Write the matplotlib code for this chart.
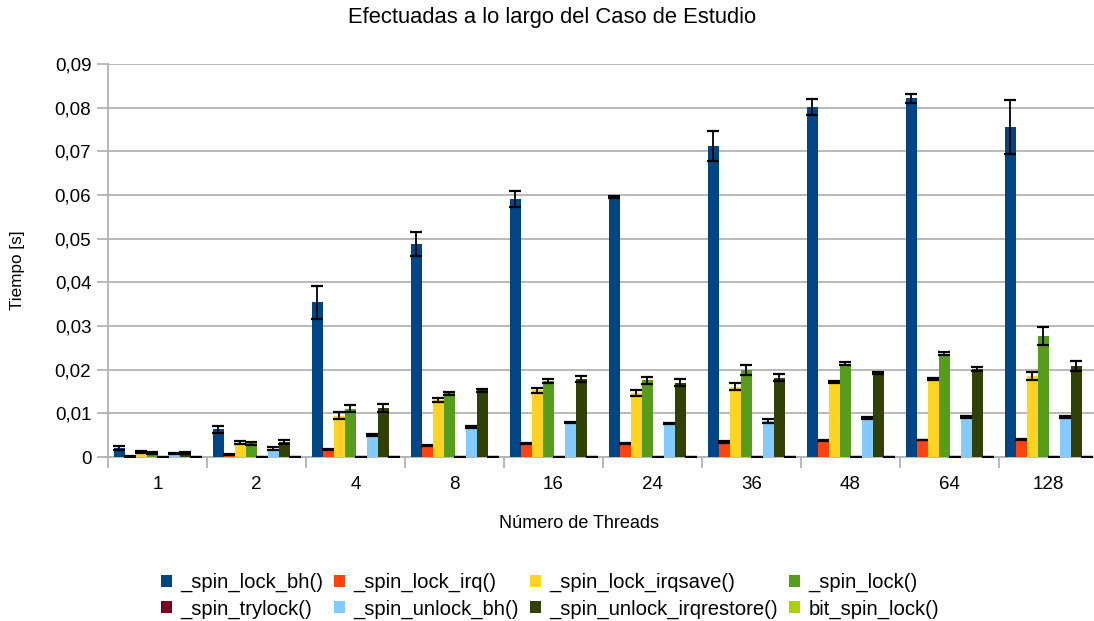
import matplotlib
matplotlib.use('Agg')
import matplotlib.pyplot as plt
from matplotlib.patches import Patch
from matplotlib.ticker import FuncFormatter, MultipleLocator
import numpy as np

plt.rcParams['font.family'] = ['Liberation Sans', 'DejaVu Sans']

threads = ['1', '2', '4', '8', '16', '24', '36', '48', '64', '128']
series = ['_spin_lock_bh()', '_spin_lock_irq()', '_spin_lock_irqsave()', '_spin_lock()',
          '_spin_trylock()', '_spin_unlock_bh()', '_spin_unlock_irqrestore()', 'bit_spin_lock()']
colors = ['#004586', '#ff420e', '#ffd320', '#579d1c', '#7e0021', '#83caff', '#314004', '#aecf00']

# tiempos medios [s] por numero de threads
lock_bh = [0.0020, 0.0063, 0.0354, 0.0488, 0.0591, 0.0596, 0.0712, 0.0801, 0.0821, 0.0756]
lock_irq = [0.0001, 0.0006, 0.0018, 0.0027, 0.0031, 0.0031, 0.0034, 0.0037, 0.0039, 0.0041]
lock_irqsave = [0.0012, 0.0033, 0.0095, 0.0130, 0.0153, 0.0146, 0.0161, 0.0172, 0.0179, 0.0185]
lock = [0.0010, 0.0031, 0.0111, 0.0146, 0.0174, 0.0176, 0.0199, 0.0214, 0.0237, 0.0277]
trylock = [0, 0, 0, 0, 0, 0, 0, 0, 0, 0]
unlock_bh = [0.0008, 0.0019, 0.0050, 0.0068, 0.0079, 0.0077, 0.0083, 0.0089, 0.0092, 0.0092]
unlock_irqrestore = [0.0010, 0.0034, 0.0112, 0.0153, 0.0178, 0.0170, 0.0182, 0.0193, 0.0201, 0.0208]
bit_lock = [0, 0, 0, 0, 0, 0, 0, 0, 0, 0]

# desviaciones
err_lock_bh = [0.0005, 0.0009, 0.0037, 0.0028, 0.0019, 0.0002, 0.0034, 0.0018, 0.0011, 0.0061]
err_lock_irq = [0.0001, 0.0001, 0.0001, 0.0001, 0.0001, 0.0001, 0.0002, 0.0001, 0.0001, 0.0001]
err_lock_irqsave = [0.0002, 0.0004, 0.0008, 0.0004, 0.0006, 0.0007, 0.0008, 0.0003, 0.0003, 0.0009]
err_lock = [0.0002, 0.0004, 0.0009, 0.0003, 0.0005, 0.0008, 0.0011, 0.0003, 0.0004, 0.0021]
err_trylock = [0, 0, 0, 0, 0, 0, 0, 0, 0, 0]
err_unlock_bh = [0.0002, 0.0003, 0.0003, 0.0002, 0.0002, 0.0002, 0.0004, 0.0002, 0.0002, 0.0003]
err_unlock_irqrestore = [0.0002, 0.0004, 0.0010, 0.0003, 0.0007, 0.0008, 0.0009, 0.0002, 0.0004, 0.0011]
err_bit_lock = [0, 0, 0, 0, 0, 0, 0, 0, 0, 0]

values = [lock_bh, lock_irq, lock_irqsave, lock, trylock, unlock_bh, unlock_irqrestore, bit_lock]
errors = [err_lock_bh, err_lock_irq, err_lock_irqsave, err_lock, err_trylock,
          err_unlock_bh, err_unlock_irqrestore, err_bit_lock]

fig = plt.figure(figsize=(10.94, 6.21), dpi=100)
ax = fig.add_axes([108 / 1094, 1 - 457 / 621, 990 / 1094, 393 / 621])

x = np.arange(len(threads))
w = 1 / 9
for j, (vals, errs) in enumerate(zip(values, errors)):
    pos = x + (j - 3.5) * w
    ax.bar(pos, vals, width=w, color=colors[j], zorder=3)
    ax.errorbar(pos, vals, yerr=errs, fmt='none', ecolor='black', elinewidth=1.3,
                capsize=4.3, capthick=1.6, zorder=4)

ax.set_xlim(-0.5, len(threads) - 0.5)
ax.set_ylim(0, 0.09)
ax.yaxis.set_major_locator(MultipleLocator(0.01))
ax.yaxis.set_major_formatter(FuncFormatter(lambda v, p: '0' if abs(v) < 1e-9 else f'{v:.2f}'.replace('.', ',')))
ax.grid(axis='y', color='#b3b3b3', linewidth=1.3, zorder=0)

ax.set_xticks(x)
ax.set_xticklabels(threads)
ax.set_xticks(np.arange(len(threads) + 1) - 0.5, minor=True)
ax.tick_params(axis='x', which='major', length=0, pad=14, labelsize=13.5)
ax.tick_params(axis='x', which='minor', length=8, width=1.3, color='#b3b3b3')
ax.tick_params(axis='y', length=8, width=1.3, color='#b3b3b3', labelsize=13.5, pad=4)

for side in ['top', 'right']:
    ax.spines[side].set_visible(False)
for side in ['left', 'bottom']:
    ax.spines[side].set_color('#b3b3b3')
    ax.spines[side].set_linewidth(1.3)

fig.text(552 / 1094, 1 - 18 / 621, 'Efectuadas a lo largo del Caso de Estudio',
         ha='center', va='center', fontsize=15.8)
fig.text(18 / 1094, 1 - 270 / 621, 'Tiempo [s]', rotation=90, ha='center', va='center', fontsize=12.3)
fig.text(579 / 1094, 1 - 523 / 621, 'Número de Threads', ha='center', va='center', fontsize=13)

# leyenda por filas: matplotlib rellena por columnas
order = [0, 4, 1, 5, 2, 6, 3, 7]
handles = [Patch(facecolor=colors[i], edgecolor='none') for i in order]
labels = [series[i] for i in order]
fig.legend(handles, labels, loc='center', bbox_to_anchor=(550 / 1094, 1 - 596 / 621), ncol=4,
           frameon=False, fontsize=14.6, handlelength=0.55, handleheight=0.55,
           handletextpad=0.4, columnspacing=0.55, labelspacing=0.35)

fig.savefig('out.png', dpi=100)
